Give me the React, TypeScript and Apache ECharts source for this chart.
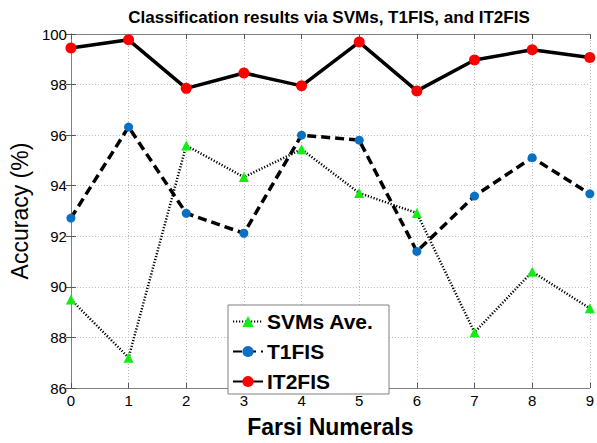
import React, { useEffect, useRef } from "react";
import * as echarts from "echarts";

const categories = [0, 1, 2, 3, 4, 5, 6, 7, 8, 9];
const svmValues = [89.5, 87.2, 95.59, 94.34, 95.44, 93.71, 92.92, 88.2, 90.6, 89.15];
const t1fisValues = [92.72, 96.32, 92.91, 92.12, 96.0, 95.8, 91.4, 93.59, 95.11, 93.68];
const it2fisValues = [99.45, 99.77, 97.85, 98.46, 97.95, 99.68, 97.75, 98.97, 99.38, 99.07];
const yTicks = { min: 86, max: 100, interval: 2 };
const xTicks = { min: 0, max: 9, interval: 1 };

const FONT = "'Liberation Sans', Arial, sans-serif";

export default function App() {
  const ref = useRef<HTMLDivElement>(null);
  useEffect(() => {
    if (!ref.current) return;
    const chart = echarts.init(ref.current, null, { renderer: "svg" });
    const pair = (arr: number[]) => categories.map((c, i) => [c, arr[i]]);
    const axisLine = { show: true, lineStyle: { color: "#808080", width: 1 } };
    const splitLine = { show: true, lineStyle: { color: "#b8b8b8", type: [1, 2], width: 1 } };
    chart.setOption({
      animation: false,
      backgroundColor: "#ffffff",
      grid: { left: 68, right: 7, top: 34, bottom: 43, containLabel: false },
      graphic: [
        {
          type: "text",
          x: 329,
          y: 17,
          z: 10,
          style: {
            text: "Classification results via SVMs, T1FIS, and IT2FIS",
            font: `bold 17px ${FONT}`,
            fill: "#000",
            textAlign: "center",
            textVerticalAlign: "middle",
          },
        },
        {
          type: "rect",
          z: 20,
          shape: { x: 228, y: 305, width: 161, height: 89 },
          style: { fill: "#ffffff", stroke: "#808080", lineWidth: 1 },
        },
      ],
      legend: {
        z: 30,
        orient: "vertical",
        left: 232,
        top: 311,
        padding: 0,
        itemWidth: 30,
        itemHeight: 14,
        itemGap: 9,
        textStyle: { fontFamily: FONT, fontSize: 21, fontWeight: "bold", color: "#000", lineHeight: 20, padding: [0, 0, 0, -1] },
        data: ["SVMs Ave.", "T1FIS", "IT2FIS"],
      },
      xAxis: [
        {
          type: "value",
          min: xTicks.min,
          max: xTicks.max,
          interval: xTicks.interval,
          position: "bottom",
          name: "Farsi Numerals",
          nameLocation: "middle",
          nameGap: 27,
          nameTextStyle: { fontFamily: FONT, fontSize: 23, fontWeight: "bold", color: "#000" },
          axisLine,
          axisTick: { show: true, inside: true, length: 5, lineStyle: { color: "#555" } },
          axisLabel: { fontFamily: FONT, fontSize: 15, color: "#000", margin: 5 },
          splitLine,
        },
        {
          type: "value",
          min: xTicks.min,
          max: xTicks.max,
          interval: xTicks.interval,
          position: "top",
          axisLine,
          axisTick: { show: true, inside: true, length: 5, lineStyle: { color: "#555" } },
          axisLabel: { show: false },
          splitLine: { show: false },
        },
      ],
      yAxis: [
        {
          type: "value",
          min: yTicks.min,
          max: yTicks.max,
          interval: yTicks.interval,
          position: "left",
          name: "Accuracy (%)",
          nameLocation: "middle",
          nameGap: 30,
          nameTextStyle: { fontFamily: FONT, fontSize: 23, color: "#000" },
          axisLine,
          axisTick: { show: true, inside: true, length: 5, lineStyle: { color: "#555" } },
          axisLabel: { fontFamily: FONT, fontSize: 15, color: "#000", margin: 4 },
          splitLine,
        },
        {
          type: "value",
          min: yTicks.min,
          max: yTicks.max,
          interval: yTicks.interval,
          position: "right",
          axisLine,
          axisTick: { show: true, inside: true, length: 5, lineStyle: { color: "#555" } },
          axisLabel: { show: false },
          splitLine: { show: false },
        },
      ],
      series: [
        {
          name: "SVMs Ave.",
          type: "line",
          data: pair(svmValues),
          symbol: "triangle",
          symbolSize: 10,
          z: 3,
          lineStyle: { color: "#000", width: 2.5, type: [1.2, 1.8] },
          itemStyle: { color: "#11ee11" },
        },
        {
          name: "T1FIS",
          type: "line",
          data: pair(t1fisValues),
          symbol: "circle",
          symbolSize: 9,
          z: 4,
          lineStyle: { color: "#000", width: 3.5, type: [9, 5] },
          itemStyle: { color: "#0a70c4" },
        },
        {
          name: "IT2FIS",
          type: "line",
          data: pair(it2fisValues),
          symbol: "circle",
          symbolSize: 11,
          z: 5,
          lineStyle: { color: "#000", width: 3.5, type: "solid" },
          itemStyle: { color: "#ff0000" },
        },
      ],
    });
    return () => chart.dispose();
  }, []);
  return <div ref={ref} style={{ width: 597, height: 443, position: "absolute", left: 0, top: 0 }} />;
}
